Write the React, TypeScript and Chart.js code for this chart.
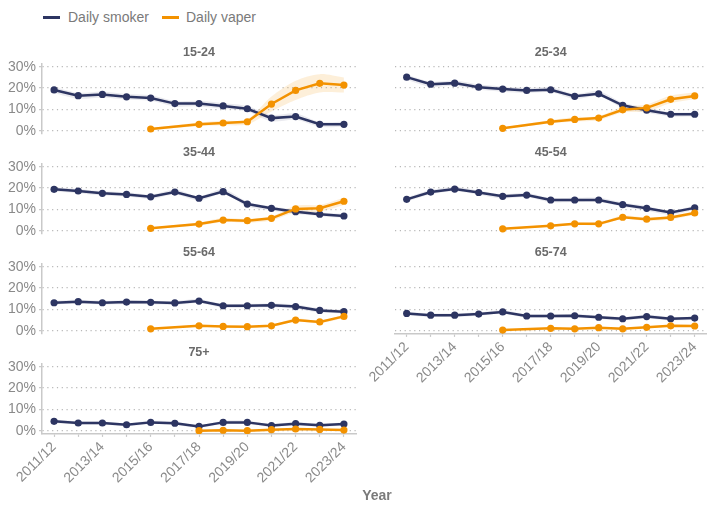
import React, { useEffect, useRef } from 'react';
import { Chart, registerables } from 'chart.js';

Chart.register(...registerables);

// ---------- DATA ----------
const years = ['2011/12', '2012/13', '2013/14', '2014/15', '2015/16', '2016/17', '2017/18', '2018/19', '2019/20', '2020/21', '2021/22', '2022/23', '2023/24'];
const xTickLabels = ['2011/12', '2013/14', '2015/16', '2017/18', '2019/20', '2021/22', '2023/24'];
const yTicks = [0, 10, 20, 30];
const seriesNames = ['Daily smoker', 'Daily vaper'];
const ageGroups = ['15-24', '25-34', '35-44', '45-54', '55-64', '65-74', '75+'];
const xAxisTitle = 'Year';

const smoker15_24 = [19.1, 16.4, 17.0, 15.9, 15.3, 12.7, 12.7, 11.6, 10.3, 5.9, 6.6, 3.0, 3.0];
const vaper15_24 = [null, null, null, null, 0.8, null, 3.0, 3.6, 4.2, 12.5, 18.9, 22.2, 21.4];
const smoker25_34 = [25.1, 21.8, 22.3, 20.4, 19.5, 18.9, 19.2, 16.1, 17.3, 11.9, 9.6, 7.7, 7.7];
const vaper25_34 = [null, null, null, null, 1.1, null, 4.2, 5.3, 5.9, 9.8, 10.7, 14.7, 16.3];
const smoker35_44 = [19.4, 18.6, 17.5, 17.0, 15.9, 18.1, 15.2, 18.3, 12.5, 10.5, 8.9, 7.7, 6.9];
const vaper35_44 = [null, null, null, null, 1.1, null, 3.1, 5.0, 4.7, 5.8, 10.2, 10.5, 13.8];
const smoker45_54 = [14.7, 18.1, 19.5, 17.9, 16.1, 16.7, 14.4, 14.4, 14.4, 12.2, 10.5, 8.5, 10.7];
const vaper45_54 = [null, null, null, null, 0.9, null, 2.3, 3.2, 3.2, 6.3, 5.4, 6.2, 8.3];
const smoker55_64 = [13.1, 13.6, 13.1, 13.4, 13.3, 13.0, 13.9, 11.7, 11.7, 11.9, 11.3, 9.5, 8.9];
const vaper55_64 = [null, null, null, null, 0.9, null, 2.3, 2.0, 1.9, 2.3, 5.0, 4.1, 6.7];
const smoker65_74 = [8.1, 7.3, 7.3, 7.8, 8.8, 6.9, 6.9, 7.0, 6.3, 5.6, 6.6, 5.6, 5.9];
const vaper65_74 = [null, null, null, null, 0.3, null, 1.1, 0.9, 1.4, 0.9, 1.6, 2.3, 2.2];
const smoker75 = [4.4, 3.6, 3.6, 2.8, 3.9, 3.5, 2.0, 3.9, 3.9, 2.4, 3.3, 2.5, 3.1];
const vaper75 = [null, null, null, null, null, null, 0.0, 0.2, 0.0, 0.5, 0.8, 0.6, 0.3];

// confidence-interval half widths (percentage points)
const smokerCi15_24 = [1.4, 1.4, 1.4, 1.3, 1.3, 1.3, 1.3, 1.3, 1.3, 1.5, 1.5, 1.2, 1.2];
const vaperCi15_24 = [null, null, null, null, 0.5, null, 0.9, 1.1, 1.2, 3.5, 4.5, 4.3, 3.5];
const smokerCi25_34 = [1.3, 1.2, 1.2, 1.2, 1.2, 1.2, 1.2, 1.2, 1.2, 1.3, 1.2, 1.0, 1.0];
const vaperCi25_34 = [null, null, null, null, 0.4, null, 0.8, 1.0, 1.0, 1.3, 1.6, 1.8, 1.6];
const smokerCi35_44 = [1.0, 1.0, 1.0, 1.0, 1.0, 1.1, 1.0, 1.1, 1.1, 1.0, 1.0, 0.9, 0.9];
const vaperCi35_44 = [null, null, null, null, 0.4, null, 0.7, 0.9, 0.9, 1.0, 1.5, 1.6, 1.8];
const smokerCi45_54 = [1.0, 1.0, 1.0, 1.0, 1.0, 1.0, 1.0, 1.0, 1.0, 1.0, 1.1, 1.0, 1.0];
const vaperCi45_54 = [null, null, null, null, 0.3, null, 0.5, 0.6, 0.6, 0.8, 0.8, 0.8, 0.9];
const smokerCi55_64 = [0.9, 0.9, 0.9, 0.9, 0.9, 0.9, 0.9, 0.9, 0.9, 0.9, 1.0, 1.0, 0.9];
const vaperCi55_64 = [null, null, null, null, 0.3, null, 0.4, 0.4, 0.4, 0.5, 0.7, 0.6, 0.8];
const smokerCi65_74 = [0.8, 0.8, 0.8, 0.8, 0.8, 0.8, 0.8, 0.8, 0.8, 0.8, 0.9, 0.8, 0.8];
const vaperCi65_74 = [null, null, null, null, 0.2, null, 0.3, 0.3, 0.3, 0.3, 0.4, 0.5, 0.5];
const smokerCi75 = [0.8, 0.7, 0.7, 0.7, 0.8, 0.7, 0.6, 0.8, 0.8, 0.7, 0.8, 0.7, 0.7];
const vaperCi75 = [null, null, null, null, null, null, 0.1, 0.2, 0.1, 0.3, 0.4, 0.3, 0.3];

// ---------- STYLE ----------
const NAVY = '#2d3562';
const ORANGE = '#f39200';
const NAVY_BAND = 'rgba(45,53,98,0.10)';
const ORANGE_BAND = 'rgba(243,146,0,0.15)';
const FONT = "'Liberation Sans', Arial, Helvetica, sans-serif";
const TICK_COLOR = '#8a8a8a';
const AXIS_COLOR = '#c9c9c9';
const GRID_COLOR = '#b8b8b8';

type Panel = {
  title: string;
  smoker: (number | null)[];
  vaper: (number | null)[];
  smokerCi: (number | null)[];
  vaperCi: (number | null)[];
  col: number;
  row: number;
  showX: boolean;
};

const panels: Panel[] = [
  { title: ageGroups[0], smoker: smoker15_24, vaper: vaper15_24, smokerCi: smokerCi15_24, vaperCi: vaperCi15_24, col: 0, row: 0, showX: false },
  { title: ageGroups[1], smoker: smoker25_34, vaper: vaper25_34, smokerCi: smokerCi25_34, vaperCi: vaperCi25_34, col: 1, row: 0, showX: false },
  { title: ageGroups[2], smoker: smoker35_44, vaper: vaper35_44, smokerCi: smokerCi35_44, vaperCi: vaperCi35_44, col: 0, row: 1, showX: false },
  { title: ageGroups[3], smoker: smoker45_54, vaper: vaper45_54, smokerCi: smokerCi45_54, vaperCi: vaperCi45_54, col: 1, row: 1, showX: false },
  { title: ageGroups[4], smoker: smoker55_64, vaper: vaper55_64, smokerCi: smokerCi55_64, vaperCi: vaperCi55_64, col: 0, row: 2, showX: false },
  { title: ageGroups[5], smoker: smoker65_74, vaper: vaper65_74, smokerCi: smokerCi65_74, vaperCi: vaperCi65_74, col: 1, row: 2, showX: true },
  { title: ageGroups[6], smoker: smoker75, vaper: vaper75, smokerCi: smokerCi75, vaperCi: vaperCi75, col: 0, row: 3, showX: true },
];

function band(values: (number | null)[], ci: (number | null)[], sign: number) {
  return values.map((v, i) => (v == null || ci[i] == null ? null : v + sign * (ci[i] as number)));
}

const TITLE_TOP = 5;
const TITLE_BOTTOM = 3.5;
const PLOT_H = 70.4;
const AREA_TOP = TITLE_TOP + 15 + TITLE_BOTTOM;
const HIDDEN_X_BOTTOM = 12.1;

function geometry(p: Panel) {
  const left = p.col === 0 ? 0 : 360;
  const width = p.col === 0 ? 360 : 356;
  const top = 40 + p.row * 100;
  const height = p.showX ? 511 - top : AREA_TOP + PLOT_H + HIDDEN_X_BOTTOM;
  return { left, top, width, height };
}

function PanelChart({ p }: { p: Panel }) {
  const ref = useRef<HTMLCanvasElement>(null);
  const g = geometry(p);
  useEffect(() => {
    if (!ref.current) return;
    const isLeft = p.col === 0;
    const xAxisHeight = g.height - AREA_TOP - PLOT_H;
    const chart = new Chart(ref.current, {
      type: 'line',
      data: {
        labels: years,
        datasets: [
          {
            label: seriesNames[1], data: p.vaper as any, borderColor: ORANGE, backgroundColor: ORANGE,
            pointBackgroundColor: ORANGE, borderWidth: 2.5, pointRadius: 3.6, pointBorderWidth: 0,
            spanGaps: true, fill: false, tension: 0,
          },
          {
            label: seriesNames[0], data: p.smoker as any, borderColor: NAVY, backgroundColor: NAVY,
            pointBackgroundColor: NAVY, borderWidth: 2.5, pointRadius: 3.6, pointBorderWidth: 0,
            spanGaps: true, fill: false, tension: 0,
          },
          {
            label: 'vaper upper', data: band(p.vaper, p.vaperCi, 1) as any, borderColor: 'transparent',
            backgroundColor: ORANGE_BAND, pointRadius: 0, spanGaps: true, fill: '+1', tension: 0.3,
          },
          {
            label: 'vaper lower', data: band(p.vaper, p.vaperCi, -1) as any, borderColor: 'transparent',
            backgroundColor: 'transparent', pointRadius: 0, spanGaps: true, fill: false, tension: 0.3,
          },
          {
            label: 'smoker upper', data: band(p.smoker, p.smokerCi, 1) as any, borderColor: 'transparent',
            backgroundColor: NAVY_BAND, pointRadius: 0, spanGaps: true, fill: '+1', tension: 0.3,
          },
          {
            label: 'smoker lower', data: band(p.smoker, p.smokerCi, -1) as any, borderColor: 'transparent',
            backgroundColor: 'transparent', pointRadius: 0, spanGaps: true, fill: false, tension: 0.3,
          },
        ],
      },
      options: {
        responsive: false,
        animation: false,
        events: [],
        layout: { padding: { left: 0, right: isLeft ? 4 : 9.3, top: 0, bottom: p.showX ? 0 : HIDDEN_X_BOTTOM } },
        plugins: {
          legend: { display: false },
          tooltip: { enabled: false },
          title: {
            display: true,
            text: p.title,
            fullSize: false,
            color: '#6a6a6a',
            font: { family: FONT, size: 12.5, weight: 'bold' },
            padding: { top: TITLE_TOP, bottom: TITLE_BOTTOM },
          },
        },
        scales: {
          x: {
            type: 'category',
            offset: true,
            display: p.showX,
            grid: { display: true, drawOnChartArea: false, drawTicks: true, tickLength: 3, tickColor: AXIS_COLOR, tickWidth: 1.2, offset: false },
            border: { display: true, color: AXIS_COLOR, width: 1.5 },
            ticks: {
              autoSkip: false,
              maxRotation: 45,
              minRotation: 45,
              padding: 2,
              color: TICK_COLOR,
              font: { family: FONT, size: 14 },
              callback: (_v: any, i: number) => (xTickLabels.includes(years[i]) ? years[i] : ''),
            },
            afterFit: (axis: any) => {
              if (!p.showX) {
                axis.height = 0;
                return;
              }
              axis.height = xAxisHeight;
              axis.paddingLeft = 0;
              axis.paddingRight = 0;
            },
          } as any,
          y: {
            min: -1.5,
            max: 31.5,
            afterBuildTicks: (axis: any) => {
              axis.ticks = yTicks.map((v) => ({ value: v }));
            },
            afterFit: (axis: any) => {
              axis.width = isLeft ? 42 : 34.7;
              axis.paddingTop = 0;
              axis.paddingBottom = 0;
            },
            grid: { display: true, drawOnChartArea: true, drawTicks: isLeft, tickLength: 3, color: GRID_COLOR, lineWidth: 1.2, tickColor: AXIS_COLOR, tickWidth: 1.2 },
            border: { display: isLeft, color: AXIS_COLOR, width: 1.5, dash: [1.2, 3.6] },
            ticks: {
              display: isLeft,
              autoSkip: false,
              padding: 3,
              color: TICK_COLOR,
              font: { family: FONT, size: 14 },
              callback: (v: any) => `${v}%`,
            },
          } as any,
        },
      },
    });
    return () => chart.destroy();
  }, []);
  return (
    <canvas
      ref={ref}
      width={Math.round(g.width)}
      height={Math.round(g.height)}
      style={{ position: 'absolute', left: g.left, top: g.top, width: Math.round(g.width), height: Math.round(g.height) }}
    />
  );
}

export default function App() {
  return (
    <div style={{ position: 'fixed', left: 0, top: 0, width: 716, height: 511, background: '#fff', overflow: 'hidden', fontFamily: FONT }}>
      <div style={{ position: 'absolute', left: 43, top: 16, width: 17, height: 3, background: NAVY }} />
      <div style={{ position: 'absolute', left: 68, top: 8, fontSize: 14, lineHeight: '18px', color: '#7a7a7a' }}>{seriesNames[0]}</div>
      <div style={{ position: 'absolute', left: 162, top: 16, width: 17, height: 3, background: ORANGE }} />
      <div style={{ position: 'absolute', left: 186, top: 8, fontSize: 14, lineHeight: '18px', color: '#7a7a7a' }}>{seriesNames[1]}</div>
      {panels.map((p) => (
        <PanelChart key={p.title} p={p} />
      ))}
      <div style={{ position: 'absolute', left: 327, width: 100, top: 486, textAlign: 'center', fontSize: 14, fontWeight: 'bold', lineHeight: '18px', color: '#7a7a7a' }}>
        {xAxisTitle}
      </div>
    </div>
  );
}
